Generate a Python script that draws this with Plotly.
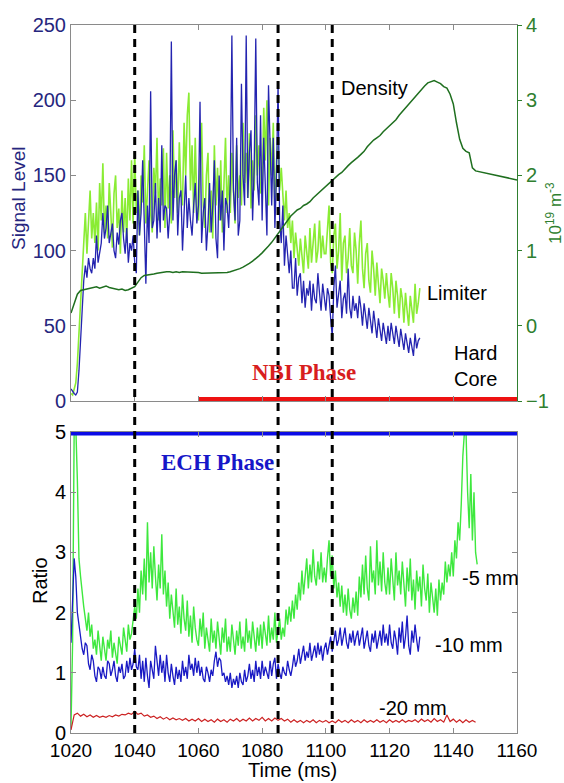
import plotly.graph_objects as go

# ---------------- data (0.5 ms sampling) ----------------
T0 = 1020
limiter = [5, 4, 8, 12, 25, 45, 62, 85, 105, 125, 98, 118, 140, 108, 125, 105, 132, 100, 145, 120,
           158, 112, 130, 108, 145, 125, 102, 138, 150, 115, 128, 98, 140, 112, 135, 105, 148, 120, 160, 118,
           165, 125, 140, 110, 150, 132, 170, 118, 145, 160, 125, 112, 155, 138, 175, 120, 148, 130, 168, 115,
           165, 128, 150, 118, 180, 135, 160, 125, 172, 140, 130, 185, 150, 190, 205, 140, 170, 125, 175, 130,
           120, 160, 185, 130, 115, 150, 165, 112, 140, 108, 170, 130, 155, 120, 160, 112, 145, 175, 125, 150,
           125, 165, 140, 118, 170, 135, 150, 130, 185, 145, 165, 135, 178, 128, 160, 140, 190, 150, 170, 138,
           140, 195, 160, 200, 130, 175, 150, 185, 125, 160, 170, 140, 155, 135, 120, 140, 115, 125, 105, 120,
           95, 112, 100, 90, 108, 95, 85, 110, 98, 88, 115, 92, 105, 118, 92, 100, 120, 95, 110, 98,
           98, 118, 130, 92, 85, 110, 118, 88, 100, 125, 80, 105, 110, 85, 95, 115, 90, 85, 112, 100,
           78, 105, 120, 88, 75, 98, 105, 80, 72, 100, 88, 70, 92, 78, 65, 88, 80, 68, 85, 72,
           62, 85, 75, 58, 80, 70, 55, 75, 68, 52, 72, 60, 50, 70, 62, 52, 78, 58, 65, 75]
hard_core = [8, 6, 5, 4, 6, 20, 40, 60, 80, 90, 82, 95, 88, 85, 95, 88, 110, 92, 100, 105,
             125, 108, 115, 130, 105, 112, 118, 100, 95, 112, 104, 120, 125, 108, 98, 115, 92, 105, 100, 110,
             92, 85, 140, 110, 125, 160, 115, 78, 130, 105, 206, 115, 120, 145, 108, 135, 112, 170, 120, 130,
             128, 108, 125, 239, 120, 150, 160, 110, 135, 140, 100, 125, 150, 115, 135, 120, 110, 130, 145, 118,
             130, 199, 105, 125, 135, 100, 118, 145, 112, 130, 160, 108, 95, 150, 120, 140, 100, 135, 130, 115,
             145, 243, 140, 120, 175, 110, 120, 211, 150, 130, 243, 135, 165, 180, 120, 155, 241, 145, 130, 190,
             120, 175, 145, 110, 210, 160, 130, 175, 115, 150, 211, 120, 105, 130, 90, 110, 95, 85, 100, 75,
             75, 95, 70, 82, 85, 65, 80, 62, 75, 70, 80, 60, 78, 68, 65, 85, 72, 60, 78, 68,
             60, 75, 70, 55, 43, 75, 90, 62, 70, 80, 55, 68, 72, 58, 88, 62, 55, 70, 60, 65,
             55, 70, 62, 50, 65, 58, 48, 62, 55, 45, 60, 50, 42, 55, 48, 40, 52, 45, 38, 50,
             40, 52, 45, 38, 50, 42, 36, 48, 40, 34, 45, 38, 32, 42, 36, 30, 45, 35, 40, 42]

# density, 1 ms sampling (10^19 m^-3)
density = [0.17, 0.30, 0.42, 0.47, 0.48, 0.49, 0.50, 0.51, 0.52, 0.50,
           0.51, 0.53, 0.51, 0.50, 0.49, 0.48, 0.49, 0.47, 0.48, 0.50,
           0.52, 0.58, 0.64, 0.67, 0.68, 0.68, 0.69, 0.70, 0.71, 0.71,
           0.72, 0.72, 0.71, 0.72, 0.71, 0.72, 0.72, 0.71, 0.72, 0.71,
           0.71, 0.70, 0.70, 0.70, 0.71, 0.70, 0.70, 0.70, 0.71, 0.71,
           0.72, 0.73, 0.74, 0.76, 0.78, 0.80, 0.83, 0.86, 0.89, 0.93,
           0.97, 1.01, 1.06, 1.11, 1.17, 1.23, 1.29, 1.35, 1.41, 1.46,
           1.50, 1.54, 1.56, 1.60, 1.62, 1.65, 1.70, 1.74, 1.78, 1.82,
           1.86, 1.90, 1.93, 1.97, 2.01, 2.04, 2.09, 2.13, 2.17, 2.20,
           2.24, 2.28, 2.32, 2.38, 2.43, 2.47, 2.50, 2.53, 2.58, 2.62,
           2.65, 2.69, 2.74, 2.80, 2.85, 2.90, 2.95, 3.00, 3.05, 3.09,
           3.14, 3.19, 3.23, 3.25, 3.26, 3.24, 3.22, 3.18, 3.16, 3.08,
           2.95, 2.70, 2.48, 2.36, 2.32, 2.30, 2.10, 2.06, 2.05, 2.04,
           2.04, 2.03, 2.02, 2.01, 2.00, 1.99, 1.98, 1.97, 1.96, 1.95,
           1.94]

ratio_5mm = [0.1, 1.5, 5.1, 5.1, 4.2, 2.9, 2.6, 2.3, 2.1, 1.9, 1.7, 2.0, 1.6, 1.8, 1.4, 1.55, 1.3, 1.7, 1.45, 1.2,
             1.6, 1.35, 1.2, 1.55, 1.4, 1.7, 1.25, 1.5, 1.35, 1.15, 1.6, 1.45, 1.3, 1.75, 1.5, 1.35, 1.8, 1.55, 1.65, 1.9,
             2.1, 1.9, 2.4, 2.0, 2.7, 2.3, 2.9, 2.2, 3.5, 2.5, 3.0, 2.4, 3.1, 2.6, 2.2, 2.8, 2.4, 3.3, 2.3, 2.7,
             2.1, 2.5, 1.9, 2.3, 2.0, 1.75, 2.4, 1.8, 2.1, 1.65, 2.3, 1.9, 1.7, 2.2, 1.6, 1.95, 1.5, 2.1, 1.75, 1.55,
             1.45, 1.9, 1.6, 2.0, 1.4, 1.75, 1.55, 1.35, 1.9, 1.5, 1.7, 1.4, 1.85, 1.55, 1.3, 1.75, 1.5, 1.9, 1.35, 1.6,
             1.35, 1.8, 1.55, 1.3, 1.7, 1.45, 1.85, 1.4, 1.6, 1.35, 1.9, 1.5, 1.7, 1.4, 1.85, 1.55, 1.35, 1.75, 1.45, 1.8,
             1.4, 1.85, 1.6, 1.45, 1.95, 1.5, 1.75, 1.55, 2.0, 1.5, 1.7, 1.9, 1.55, 1.75, 1.6, 2.05, 1.8, 2.1, 1.85, 2.2,
             1.9, 2.3, 2.05, 2.5, 2.2, 2.7, 2.3, 2.55, 2.9, 2.4, 2.8, 2.5, 3.05, 2.6, 2.45, 2.85, 2.55, 3.0, 2.5, 2.75,
             2.5, 2.9, 3.2, 2.6, 2.95, 2.4, 2.7, 2.25, 2.5, 2.1, 2.45, 2.0, 2.3, 1.95, 2.4, 2.05, 1.9, 2.25, 2.0, 2.35,
             1.95, 2.6, 2.25, 2.8, 2.3, 2.95, 2.4, 2.2, 3.1, 2.5, 2.7, 2.3, 3.2, 2.45, 2.85, 2.35, 3.0, 2.5, 2.3, 2.75,
             2.3, 2.9, 2.55, 2.2, 3.0, 2.45, 2.7, 2.3, 2.85, 2.4, 2.1, 2.75, 2.35, 2.9, 2.2, 2.55, 2.05, 2.7, 2.35, 2.6,
             2.1, 2.8, 2.4, 2.2, 2.65, 2.0, 2.5, 2.25, 2.0, 2.4, 1.95, 2.55, 2.2, 2.5, 2.3, 2.85, 2.5, 2.8, 2.6, 3.0,
             2.6, 3.2, 2.9, 3.5, 3.2, 3.8, 4.6, 5.0, 5.0, 4.0, 3.4, 4.3, 3.2, 4.0, 3.0, 2.8]
ratio_10mm = [1.5, 2.4, 2.9, 2.6, 2.0, 1.8, 1.6, 1.4, 1.3, 1.5, 1.45, 1.15, 1.05, 1.3, 1.2, 0.95, 0.85, 1.1, 1.05, 0.9,
              1.1, 0.95, 0.9, 1.2, 1.15, 0.95, 1.05, 1.2, 0.95, 0.85, 1.1, 1.0, 1.15, 0.9, 0.95, 1.2, 1.0, 1.25, 1.05, 1.15,
              1.4, 1.1, 1.05, 1.3, 0.9, 1.2, 0.85, 1.25, 0.95, 0.75, 1.2, 1.05, 0.9, 1.45, 1.15, 0.95, 1.3, 1.0, 1.2, 0.85,
              1.3, 1.0, 0.85, 1.15, 0.95, 0.8, 1.1, 0.9, 1.05, 0.85, 1.2, 0.95, 1.1, 0.9, 1.3, 1.05, 1.15, 0.95, 1.25, 1.0,
              1.2, 0.95, 1.1, 0.9, 0.85, 1.1, 1.0, 0.85, 1.05, 0.95, 1.2, 1.35, 1.1, 1.25, 1.2, 0.95, 1.0, 0.85, 0.95, 0.8,
              1.0, 0.75, 0.9, 0.8, 0.95, 0.75, 1.0, 0.85, 0.8, 1.05, 0.85, 0.95, 1.15, 0.9, 1.05, 0.85, 1.2, 0.95, 1.1, 0.9,
              1.2, 0.95, 1.1, 1.0, 0.9, 1.2, 0.95, 1.15, 1.25, 0.9, 1.15, 1.0, 0.9, 1.1, 1.0, 0.95, 1.2, 1.05, 0.95, 1.1,
              1.3, 1.1, 1.2, 1.4, 1.15, 1.3, 1.45, 1.2, 1.35, 1.25, 1.5, 1.2, 1.35, 1.45, 1.25, 1.5, 1.3, 1.45, 1.2, 1.4,
              1.5, 1.3, 1.45, 1.6, 1.35, 1.5, 1.7, 1.45, 1.55, 1.75, 1.45, 1.6, 1.75, 1.5, 1.4, 1.65, 1.5, 1.7, 1.45, 1.6,
              1.7, 1.45, 1.6, 1.75, 1.4, 1.55, 1.7, 1.45, 1.35, 1.65, 1.5, 1.7, 1.4, 1.55, 1.7, 1.45, 1.8, 1.5, 1.65, 1.45,
              1.8, 1.5, 1.4, 1.7, 1.55, 1.3, 1.75, 1.5, 1.85, 1.4, 1.6, 1.95, 1.45, 1.3, 1.7, 1.5, 1.8, 1.55, 1.35, 1.6]
# -20 mm, 1 ms sampling
ratio_20mm = [0.05, 0.30, 0.33, 0.28, 0.31, 0.27, 0.30, 0.26, 0.29, 0.26,
              0.28, 0.26, 0.29, 0.27, 0.30, 0.28, 0.31, 0.30, 0.33, 0.31,
              0.36, 0.31, 0.33, 0.28, 0.30, 0.26, 0.28, 0.24, 0.27, 0.23,
              0.26, 0.22, 0.25, 0.22, 0.24, 0.21, 0.24, 0.20, 0.23, 0.20,
              0.24, 0.19, 0.23, 0.19, 0.22, 0.18, 0.23, 0.19, 0.22, 0.18,
              0.23, 0.20, 0.24, 0.19, 0.23, 0.20, 0.25, 0.20, 0.24, 0.21,
              0.26, 0.20, 0.24, 0.20, 0.25, 0.21, 0.24, 0.20, 0.23, 0.18,
              0.22, 0.18, 0.21, 0.17, 0.21, 0.18, 0.22, 0.17, 0.21, 0.18,
              0.21, 0.17, 0.20, 0.17, 0.22, 0.18, 0.21, 0.17, 0.22, 0.18,
              0.21, 0.17, 0.22, 0.18, 0.21, 0.18, 0.22, 0.18, 0.21, 0.17,
              0.22, 0.18, 0.21, 0.18, 0.22, 0.18, 0.21, 0.19, 0.22, 0.18,
              0.23, 0.19, 0.22, 0.18, 0.24, 0.19, 0.22, 0.18, 0.30, 0.19,
              0.23, 0.18, 0.22, 0.17, 0.22, 0.18, 0.21, 0.18]

event_times = [1040, 1085, 1102]
nbi_phase = [1060, 1160]
ech_phase = [1020, 1160]
x_ticks = [1020, 1040, 1060, 1080, 1100, 1120, 1140, 1160]


def grid(values, step):
    return [T0 + step * i for i in range(len(values))]


# ---------------- styling ----------------
FONT = "Liberation Sans, Arial, sans-serif"
SERIF = "Liberation Serif, Times New Roman, serif"
NAVY = "#26267e"
DGREEN = "#2f7f2f"
AXGRAY = "#8a8a8a"
XD = [71 / 564, 517 / 564]
YTOP = [1 - 401 / 783, 1 - 25 / 783]
YBOT = [1 - 733 / 783, 1 - 432 / 783]

fig = go.Figure()

# top panel
fig.add_trace(go.Scatter(x=grid(limiter, 0.5), y=limiter, mode="lines",
                         line=dict(color="#8aec34", width=1.6), xaxis="x", yaxis="y"))
fig.add_trace(go.Scatter(x=grid(hard_core, 0.5), y=hard_core, mode="lines",
                         line=dict(color="#2424b0", width=1.3), xaxis="x", yaxis="y"))
fig.add_trace(go.Scatter(x=grid(density, 1), y=density, mode="lines",
                         line=dict(color="#1f6f1f", width=1.5), xaxis="x", yaxis="y2"))
fig.add_trace(go.Scatter(x=nbi_phase, y=[0, 0], mode="lines", cliponaxis=False,
                         line=dict(color="#ee1111", width=8), xaxis="x", yaxis="y"))

# bottom panel
fig.add_trace(go.Scatter(x=grid(ratio_5mm, 0.5), y=ratio_5mm, mode="lines",
                         line=dict(color="#3ee83e", width=1.4), xaxis="x2", yaxis="y3"))
fig.add_trace(go.Scatter(x=grid(ratio_10mm, 0.5), y=ratio_10mm, mode="lines",
                         line=dict(color="#1a1ac4", width=1.3), xaxis="x2", yaxis="y3"))
fig.add_trace(go.Scatter(x=grid(ratio_20mm, 1), y=ratio_20mm, mode="lines",
                         line=dict(color="#cc2222", width=1.2), xaxis="x2", yaxis="y3"))
fig.add_trace(go.Scatter(x=ech_phase, y=[5, 5], mode="lines", cliponaxis=False,
                         line=dict(color="#0a0ae6", width=7), xaxis="x2", yaxis="y3"))

for tt in event_times:
    fig.add_shape(type="line", xref="x2", yref="paper", x0=tt, x1=tt,
                  y0=YBOT[0], y1=YTOP[1],
                  line=dict(color="black", width=3, dash="8px,6px"))

common_x = dict(range=[1020, 1160], tickvals=x_ticks, ticks="inside", ticklen=5,
                tickcolor=AXGRAY, showline=True, linecolor=AXGRAY, linewidth=1,
                mirror="ticks", showgrid=False, zeroline=False, domain=XD, automargin=False,
                tickfont=dict(family=FONT, size=19, color="black"))

fig.update_layout(
    width=564, height=783, margin=dict(l=0, r=0, t=0, b=0, autoexpand=False),
    paper_bgcolor="white", plot_bgcolor="white", showlegend=False,
    font=dict(family=FONT, color="black"),
    xaxis=dict(common_x, anchor="y", showticklabels=False),
    yaxis=dict(domain=YTOP, anchor="x", range=[0, 250], tickvals=[0, 50, 100, 150, 200, 250],
               ticks="inside", ticklen=5, tickcolor=AXGRAY, showline=True, linecolor=AXGRAY,
               showgrid=False, zeroline=False, automargin=False,
               tickfont=dict(family=FONT, size=20, color=NAVY)),
    yaxis2=dict(overlaying="y", side="right", anchor="x", range=[-1, 4],
                tickvals=[-1, 0, 1, 2, 3, 4], ticks="outside", ticklen=4,
                tickcolor=DGREEN, showline=True, linecolor=DGREEN, showgrid=False,
                zeroline=False, automargin=False,
                tickfont=dict(family=FONT, size=20, color=DGREEN)),
    xaxis2=dict(common_x, anchor="y3"),
    yaxis3=dict(domain=YBOT, anchor="x2", range=[0, 5], tickvals=[0, 1, 2, 3, 4, 5],
                ticks="inside", ticklen=5, tickcolor=AXGRAY, showline=True, linecolor=AXGRAY,
                mirror="ticks", showgrid=False, zeroline=False, automargin=False,
                tickfont=dict(family=FONT, size=20, color="black")),
)

ann = []


def add(text, x, y, xref, yref, size=20, color="black", family=FONT, xanchor="left",
        angle=0):
    ann.append(dict(text=text, x=x, y=y, xref=xref, yref=yref, showarrow=False,
                    xanchor=xanchor, yanchor="middle", textangle=angle,
                    font=dict(family=family, size=size, color=color)))


add("Density", 1104, 208, "x", "y")
add("Limiter", 1131, 72, "x", "y")
add("Hard<br>Core", 1147, 23, "x", "y", xanchor="center")
add("<b>NBI Phase</b>", 1093, 19, "x", "y", size=23, color="#d81e1e", family=SERIF,
    xanchor="center")
add("<b>ECH Phase</b>", 1066, 4.49, "x2", "y3", size=23, color="#1616c8", family=SERIF,
    xanchor="center")
add("-5 mm", 1142, 2.57, "x2", "y3")
add("-10 mm", 1133.5, 1.46, "x2", "y3")
add("-20 mm", 1116, 0.42, "x2", "y3")
add("Signal Level", 18 / 564, 1 - 198 / 783, "paper", "paper", size=19, color=NAVY,
    xanchor="center", angle=-90)
add("10<sup>19</sup> m<sup>-3</sup>", 554 / 564, 1 - 213 / 783, "paper", "paper", size=17,
    color=DGREEN, xanchor="center", angle=-90)
add("Ratio", 40 / 564, 1 - 581 / 783, "paper", "paper", size=20, xanchor="center", angle=-90)
add("Time (ms)", 293 / 564, 1 - 770 / 783, "paper", "paper", size=20, xanchor="center")
fig.update_layout(annotations=ann)

fig.write_html("out.html")
